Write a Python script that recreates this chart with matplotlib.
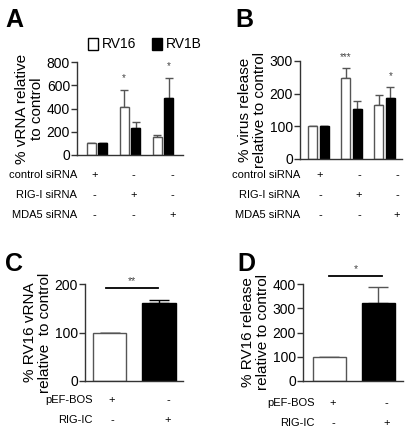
import matplotlib.pyplot as plt
import numpy as np
from matplotlib.transforms import blended_transform_factory
from matplotlib.patches import Patch

plt.rcParams["font.family"] = ["Liberation Sans", "DejaVu Sans"]

# panel A: vRNA relative to control
groups = ["control", "RIG-I", "MDA5"]
a_rv16 = [100, 410, 155]
a_rv16_err = [0, 145, 20]
a_rv1b = [100, 235, 490]
a_rv1b_err = [0, 50, 170]

# panel B: virus release
b_rv16 = [100, 248, 165]
b_rv16_err = [0, 30, 31]
b_rv1b = [100, 153, 188]
b_rv1b_err = [0, 24, 32]

# panel C / D: RIG-IC over-expression
c_vals = [100, 160]
c_err = [0, 8]
d_vals = [100, 320]
d_err = [0, 68]

siRNA_rows = ["control siRNA", "RIG-I siRNA", "MDA5 siRNA"]
siRNA_signs = [["+", "-", "-"], ["-", "+", "-"], ["-", "-", "+"]]
oe_rows = ["pEF-BOS", "RIG-IC"]
oe_signs = [["+", "-"], ["-", "+"]]

W, H = 408, 432
fig = plt.figure(figsize=(W / 100, H / 100), dpi=100)
axcol = "#333333"
errcol = "#555555"


def add_ax(l, r, t, b):
    ax = fig.add_axes([l / W, 1 - b / H, (r - l) / W, (b - t) / H])
    for s in ["top", "right"]:
        ax.spines[s].set_visible(False)
    for s in ["left", "bottom"]:
        ax.spines[s].set_color(axcol)
        ax.spines[s].set_linewidth(1.0)
    ax.tick_params(axis="y", direction="out", length=4, width=1, color=axcol,
                   labelsize=10, pad=1)
    ax.tick_params(axis="x", bottom=False, labelbottom=False)
    return ax


def bars(ax, x, vals, err, color, width):
    ax.bar(x, vals, width, color=color, edgecolor=errcol if color == "white" else "black",
           linewidth=1.0, zorder=2)
    ax.errorbar(x, vals, yerr=[np.zeros(len(err)), err], fmt="none", ecolor=errcol,
                elinewidth=1.0, capsize=3, capthick=1.0, zorder=1)


def sign_rows(ax, xs, labels, signs, ys, label_right):
    tr = blended_transform_factory(ax.transData, fig.transFigure)
    for lab, row, y in zip(labels, signs, ys):
        fig.text(label_right / W, 1 - y / H, lab, ha="right", va="center", fontsize=8)
        for xx, s in zip(xs, row):
            ax.text(xx, 1 - y / H, s, transform=tr, ha="center", va="center", fontsize=8)


def star(ax, x, y, txt, dy):
    ax.annotate(txt, (x, y), xytext=(0, dy), textcoords="offset points",
                ha="center", va="center", fontsize=7, color="#444444", annotation_clip=False)


# ---- A ----
x = np.arange(3)
axA = add_ax(77, 183, 62, 155)
bars(axA, x - 0.175, a_rv16, a_rv16_err, "white", 0.27)
bars(axA, x + 0.175, a_rv1b, a_rv1b_err, "black", 0.27)
axA.set_ylim(0, 800)
axA.set_yticks([0, 200, 400, 600, 800])
axA.set_xlim(-0.61, 2.61)
axA.set_ylabel("% vRNA relative\nto control", fontsize=11, linespacing=1.05, labelpad=2)
star(axA, 1 - 0.175, a_rv16[1] + a_rv16_err[1], "*", 9)
star(axA, 2 + 0.175, a_rv1b[2] + a_rv1b_err[2], "*", 9)
sign_rows(axA, [-0.08, 1.11, 2.3], siRNA_rows, siRNA_signs, [175, 195, 215], 77)

handles = [Patch(facecolor="white", edgecolor="black", label="RV16"),
           Patch(facecolor="black", edgecolor="black", label="RV1B")]
fig.legend(handles=handles, loc="center left", bbox_to_anchor=(88 / W, 1 - 44.5 / H),
           ncol=2, frameon=False, fontsize=10, handlelength=0.75, handleheight=1.0,
           handletextpad=0.25, columnspacing=1.1, borderpad=0, borderaxespad=0)

# ---- B ----
axB = add_ax(300, 402, 61, 159)
bars(axB, x - 0.18, b_rv16, b_rv16_err, "white", 0.27)
bars(axB, x + 0.18, b_rv1b, b_rv1b_err, "black", 0.27)
axB.set_ylim(0, 300)
axB.set_yticks([0, 100, 200, 300])
axB.set_xlim(-0.56, 2.53)
axB.set_ylabel("% virus release\nrelative to control", fontsize=11, linespacing=1.05,
               labelpad=2)
star(axB, 1 - 0.18, b_rv16[1] + b_rv16_err[1], "***", 8)
star(axB, 2 + 0.18, b_rv1b[2] + b_rv1b_err[2], "*", 8)
sign_rows(axB, [0.05, 1.23, 2.38], siRNA_rows, siRNA_signs, [175, 195, 215], 300)

# ---- C ----
x2 = np.arange(2)
axC = add_ax(85, 183, 284, 381)
axC.bar(x2, c_vals, 0.67, color=["white", "black"], edgecolor=[errcol, "black"],
        linewidth=1.0, zorder=2)
axC.errorbar(x2, c_vals, yerr=[np.zeros(2), c_err], fmt="none", ecolor="black",
             elinewidth=1.0, capsize=7, capthick=1.0, zorder=1)
axC.set_ylim(0, 200)
axC.set_yticks([0, 100, 200])
axC.set_xlim(-0.495, 1.485)
axC.set_ylabel("% RV16 vRNA\nrelative  to control", fontsize=11, linespacing=1.05,
               labelpad=2)
axC.plot([-0.07, 0.98], [192, 192], color="black", lw=1.3, clip_on=False)
axC.text(0.455, 196, "**", ha="center", va="bottom", fontsize=7.5, color="#444444")
sign_rows(axC, [0.05, 1.18], oe_rows, oe_signs, [400, 420], 93)

# ---- D ----
axD = add_ax(303, 403, 284, 381)
axD.bar(x2, d_vals, 0.67, color=["white", "black"], edgecolor=[errcol, "black"],
        linewidth=1.0, zorder=2)
axD.errorbar(x2, d_vals, yerr=[np.zeros(2), d_err], fmt="none", ecolor=errcol,
             elinewidth=1.0, capsize=7, capthick=1.0, zorder=1)
axD.set_ylim(0, 400)
axD.set_yticks([0, 100, 200, 300, 400])
axD.set_xlim(-0.54, 1.5)
axD.set_ylabel("% RV16 release\nrelative to control", fontsize=11, linespacing=1.05,
               labelpad=2)
axD.plot([0.0, 1.08], [433, 433], color="black", lw=1.3, clip_on=False)
axD.text(0.54, 441, "*", ha="center", va="bottom", fontsize=7.5, color="#444444")
sign_rows(axD, [0.07, 1.17], oe_rows, oe_signs, [403, 423], 315)

# panel letters
for lab, px, py in [("A", 5, 8), ("B", 235, 8), ("C", 5, 252), ("D", 237, 252)]:
    fig.text(px / W, 1 - py / H, lab, ha="left", va="top", fontsize=18, fontweight="bold")

fig.savefig("out.png", dpi=100)
